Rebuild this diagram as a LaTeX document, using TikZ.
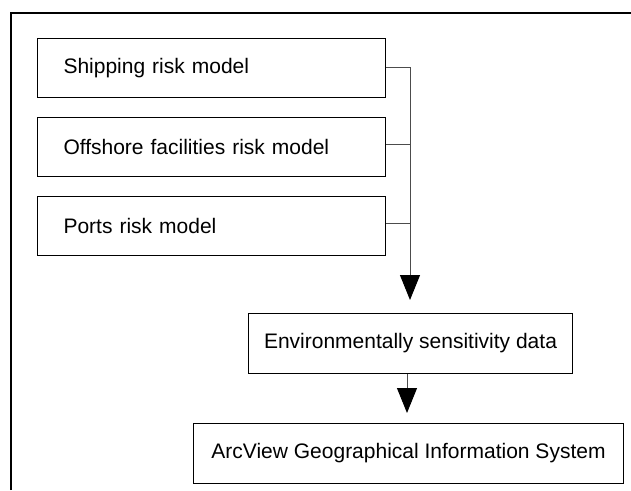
\documentclass[tikz,border=0pt]{standalone}
\usepackage{fontspec}
\setmainfont{Liberation Sans}
\usetikzlibrary{arrows.meta}
\begin{document}
\begin{tikzpicture}[x=1pt,y=-1pt,
  modelbox/.style={draw=black,line width=1pt,rectangle,anchor=north west,
    minimum height=59pt,text width=296pt,inner xsep=26pt,align=left,
    font=\fontsize{21}{25}\selectfont},
  centerbox/.style={draw=black,line width=1pt,rectangle,anchor=north west,
    minimum height=60pt,inner xsep=0pt,align=center,
    font=\fontsize{21}{25}\selectfont},
  link/.style={draw=black!70,line width=1pt},
  flow/.style={link,-{Triangle[width=20pt,length=25pt,color=black,fill=black]}}]
\useasboundingbox (0,0) rectangle (631,490);
\fill[white] (0,0) rectangle (631,490);
% outer frame
\draw[line width=1.3pt] (11,490) -- (11,13) -- (631,13);
% model boxes
\node[modelbox] (ship) at (37,38) {Shipping risk model};
\node[modelbox] (off) at (37,117) {Offshore facilities risk model};
\node[modelbox] (ports) at (37,196) {Ports risk model};
\node[centerbox,minimum width=324pt] (env) at (248,313) {Environmentally sensitivity data};
\node[centerbox,minimum width=430pt] (arc) at (193,423) {ArcView Geographical Information System};
% bus
\coordinate (b1) at (410,67);
\coordinate (b2) at (410,144);
\coordinate (b3) at (410,223);
\coordinate (tip1) at (410,300);
\coordinate (tip2) at (407,413);
\draw[link] (ship.east |- b1) -- (b1);
\draw[link] (off.east |- b2) -- (b2);
\draw[link] (ports.east |- b3) -- (b3);
\draw[flow] (b1) -- (tip1);
\draw[flow] (env.south -| tip2) -- (tip2);
\end{tikzpicture}
\end{document}
